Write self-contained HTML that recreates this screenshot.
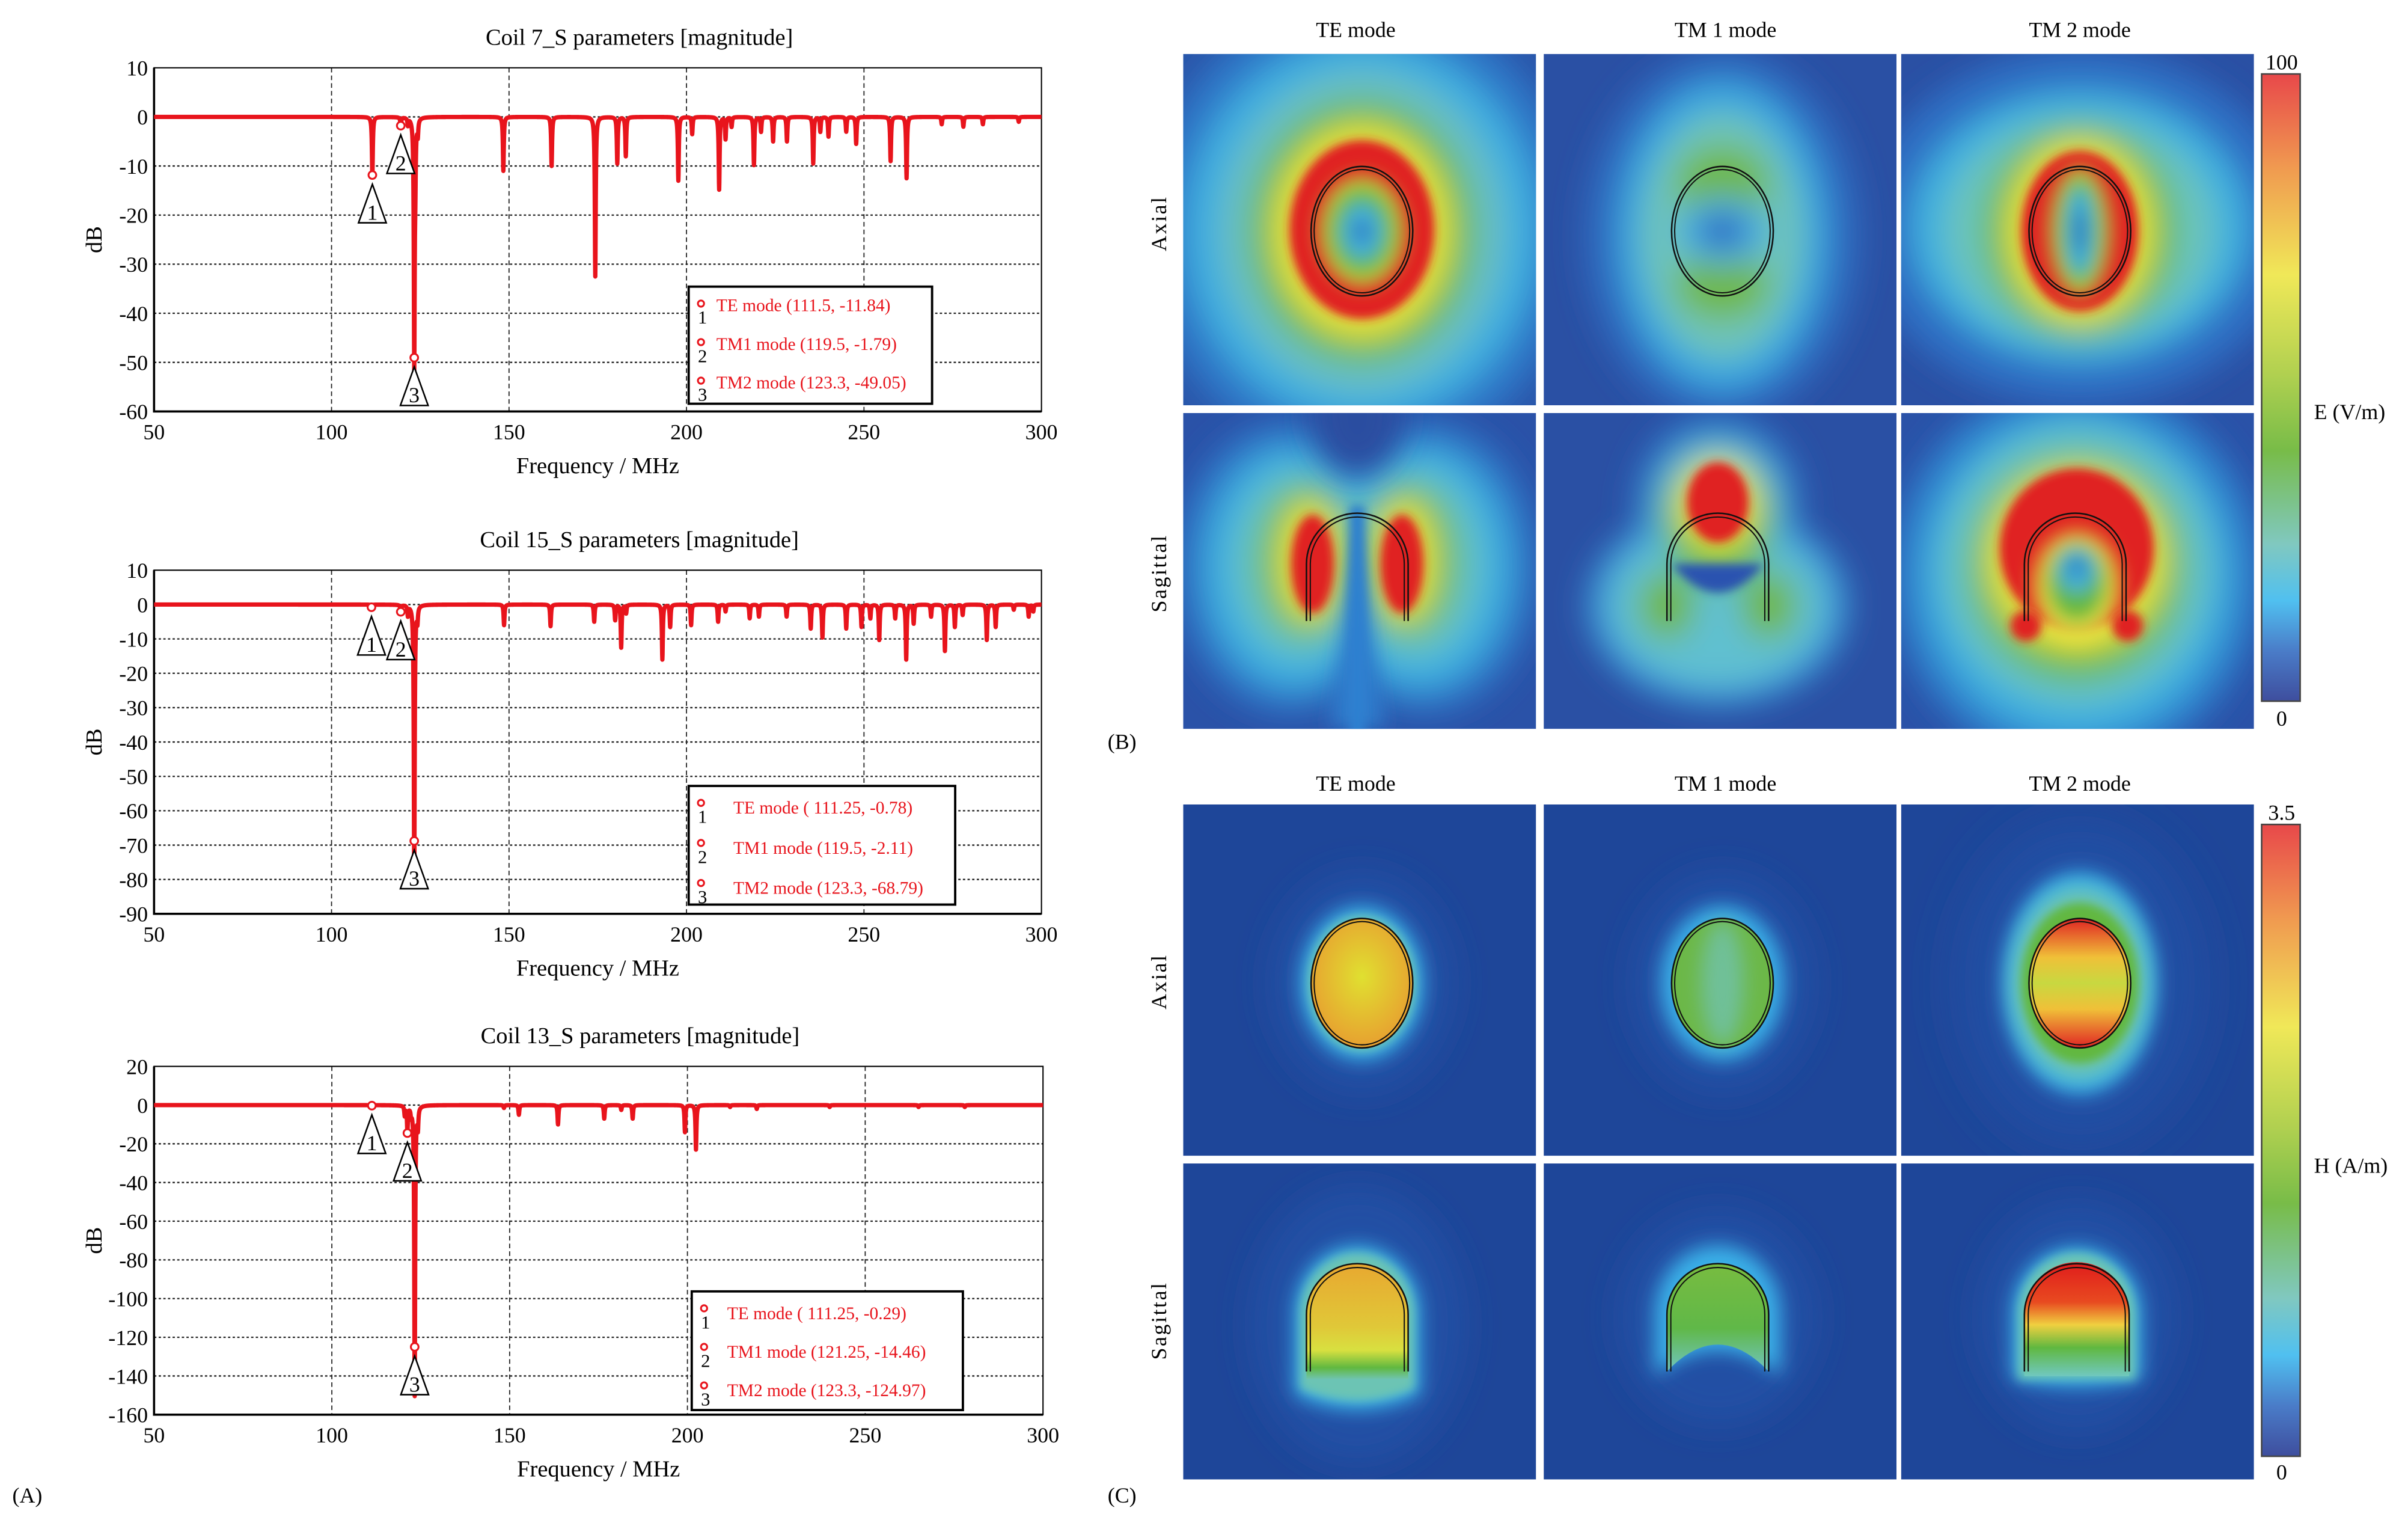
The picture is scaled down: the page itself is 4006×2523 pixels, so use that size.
<!DOCTYPE html>
<html><head><meta charset="utf-8"><style>
html,body{margin:0;padding:0;background:#fff;}
svg{display:block;font-family:"Liberation Serif",serif;}
</style></head><body>
<svg id="fig" width="4006" height="2523" viewBox="0 0 1563 984.4" preserveAspectRatio="none" xmlns="http://www.w3.org/2000/svg">
<defs>
<filter id="b3" x="-50%" y="-50%" width="200%" height="200%"><feGaussianBlur stdDeviation="3"/></filter>
<filter id="b6" x="-50%" y="-50%" width="200%" height="200%"><feGaussianBlur stdDeviation="6"/></filter>
<filter id="b10" x="-50%" y="-50%" width="200%" height="200%"><feGaussianBlur stdDeviation="10"/></filter>
<filter id="b16" x="-50%" y="-50%" width="200%" height="200%"><feGaussianBlur stdDeviation="16"/></filter>
<clipPath id="cA"><rect x="0" y="0" width="229" height="228"/></clipPath>
<clipPath id="cS"><rect x="0" y="0" width="229" height="205"/></clipPath>
<linearGradient id="cbar" x1="0" y1="0" x2="0" y2="1">
<stop offset="0" stop-color="#e8484a"/><stop offset="0.15" stop-color="#f09a50"/><stop offset="0.32" stop-color="#f0e858"/><stop offset="0.48" stop-color="#b0d050"/><stop offset="0.6" stop-color="#78bc48"/><stop offset="0.75" stop-color="#80c8c0"/><stop offset="0.84" stop-color="#50c0f0"/><stop offset="0.92" stop-color="#4a7cc8"/><stop offset="1" stop-color="#3e4e9e"/>
</linearGradient>
<linearGradient id="hTM2a" x1="0" y1="0" x2="0" y2="1"><stop offset="0" stop-color="#e02424"/><stop offset="0.3" stop-color="#f0c038"/><stop offset="0.5" stop-color="#c8d840"/><stop offset="0.7" stop-color="#f0c038"/><stop offset="1" stop-color="#e02424"/></linearGradient>
<linearGradient id="hTEs" x1="0" y1="0" x2="0" y2="1"><stop offset="0" stop-color="#e8a830"/><stop offset="0.55" stop-color="#e0c838"/><stop offset="0.75" stop-color="#d8e040"/><stop offset="0.9" stop-color="#60b840"/><stop offset="1" stop-color="#70c4b0"/></linearGradient>
<linearGradient id="hTM1s" x1="0" y1="0" x2="0" y2="1"><stop offset="0" stop-color="#78bc40"/><stop offset="0.6" stop-color="#60b848"/><stop offset="1" stop-color="#70c4c0"/></linearGradient>
<linearGradient id="hTM2s" x1="0" y1="0" x2="0" y2="1"><stop offset="0" stop-color="#e01c1c"/><stop offset="0.35" stop-color="#e84a20"/><stop offset="0.55" stop-color="#f0d040"/><stop offset="0.75" stop-color="#60b840"/><stop offset="1" stop-color="#70c8c0"/></linearGradient>
<radialGradient id="hTEa" cx="0.5" cy="0.45" r="0.6"><stop offset="0" stop-color="#e0e030"/><stop offset="1" stop-color="#e89a30"/></radialGradient>
</defs>

<g id="charts"></g>
<text x="8" y="975" font-size="14">(A)</text>

<g>
<text x="880" y="24" font-size="14" text-anchor="middle">TE mode</text>
<text x="1120" y="24" font-size="14" text-anchor="middle">TM 1 mode</text>
<text x="1350" y="24" font-size="14" text-anchor="middle">TM 2 mode</text>
<text transform="translate(757,145) rotate(-90)" font-size="14" text-anchor="middle" letter-spacing="1">Axial</text>
<text transform="translate(757,372) rotate(-90)" font-size="14" text-anchor="middle" letter-spacing="1">Sagittal</text>

<g transform="translate(768,35)" clip-path="url(#cA)">
<rect width="229" height="228" fill="#2a56aa"/>
<g filter="url(#b10)">
<ellipse cx="116" cy="115" rx="140" ry="150" fill="#2f78c8"/>
<ellipse cx="116" cy="115" rx="115" ry="125" fill="#40aee0"/>
<ellipse cx="116" cy="115" rx="92" ry="104" fill="#6cc0c0"/>
<ellipse cx="116" cy="115" rx="72" ry="84" fill="#62b840"/>
<ellipse cx="116" cy="115" rx="58" ry="70" fill="#e8e040"/>
</g>
<ellipse cx="116" cy="114" rx="47" ry="58" fill="#e02020" filter="url(#b3)"/>
<g filter="url(#b6)">
<ellipse cx="116" cy="115" rx="28" ry="36" fill="#c8d840"/>
<ellipse cx="116" cy="115" rx="22" ry="29" fill="#62b840"/>
<ellipse cx="116" cy="115" rx="13" ry="18" fill="#40b0e0"/>
<ellipse cx="116" cy="115" rx="4" ry="8" fill="#2a56aa"/>
</g>
<ellipse cx="116" cy="115" rx="33" ry="42" fill="none" stroke="#111" stroke-width="1"/>
<ellipse cx="116" cy="115" rx="31" ry="40" fill="none" stroke="#111" stroke-width="0.8"/>
</g>
<g transform="translate(1002,35)" clip-path="url(#cA)">
<rect width="229" height="228" fill="#2a50a4"/>
<g filter="url(#b10)">
<ellipse cx="116" cy="118" rx="90" ry="120" fill="#2e6cc0"/>
<ellipse cx="116" cy="118" rx="68" ry="100" fill="#3ca8e0"/>
<ellipse cx="116" cy="118" rx="52" ry="80" fill="#70c4b8"/>
<ellipse cx="116" cy="85" rx="30" ry="25" fill="#70b848"/>
<ellipse cx="116" cy="150" rx="30" ry="22" fill="#70b848"/>
<ellipse cx="116" cy="115" rx="30" ry="22" fill="#4ab0e0"/>
<ellipse cx="116" cy="115" rx="16" ry="11" fill="#2e66c0"/>
</g>
<ellipse cx="116" cy="115" rx="33" ry="42" fill="none" stroke="#111" stroke-width="1"/>
<ellipse cx="116" cy="115" rx="31" ry="40" fill="none" stroke="#111" stroke-width="0.8"/>
</g>
<g transform="translate(1234,35)" clip-path="url(#cA)">
<rect width="229" height="228" fill="#2a50a4"/>
<g filter="url(#b10)">
<ellipse cx="116" cy="112" rx="140" ry="115" fill="#2e70c4"/>
<ellipse cx="116" cy="112" rx="110" ry="88" fill="#40b0e0"/>
<ellipse cx="116" cy="114" rx="88" ry="74" fill="#6cc4bc"/>
<ellipse cx="116" cy="115" rx="62" ry="68" fill="#62b840"/>
<ellipse cx="116" cy="115" rx="48" ry="60" fill="#e8e040"/>
</g>
<ellipse cx="116" cy="115" rx="38" ry="52" fill="#e02020" filter="url(#b3)"/>
<g filter="url(#b6)">
<ellipse cx="116" cy="115" rx="20" ry="42" fill="#c8d840"/>
<ellipse cx="116" cy="115" rx="15" ry="36" fill="#62b840"/>
<ellipse cx="116" cy="115" rx="9" ry="28" fill="#40b0e0"/>
<ellipse cx="116" cy="115" rx="3" ry="15" fill="#2a56aa"/>
</g>
<ellipse cx="116" cy="115" rx="33" ry="42" fill="none" stroke="#111" stroke-width="1"/>
<ellipse cx="116" cy="115" rx="31" ry="40" fill="none" stroke="#111" stroke-width="0.8"/>
</g>
<g transform="translate(768,268)" clip-path="url(#cS)">
<rect width="229" height="205" fill="#2a52a8"/>
<g filter="url(#b10)">
<ellipse cx="70" cy="100" rx="75" ry="95" fill="#2e78c8"/>
<ellipse cx="156" cy="100" rx="75" ry="95" fill="#2e78c8"/>
<ellipse cx="72" cy="100" rx="58" ry="78" fill="#40b0e0"/>
<ellipse cx="154" cy="100" rx="58" ry="78" fill="#40b0e0"/>
<ellipse cx="76" cy="98" rx="42" ry="60" fill="#6cc4bc"/>
<ellipse cx="150" cy="98" rx="42" ry="60" fill="#6cc4bc"/>
<ellipse cx="80" cy="96" rx="30" ry="48" fill="#62b840"/>
<ellipse cx="146" cy="96" rx="30" ry="48" fill="#62b840"/>
<ellipse cx="82" cy="96" rx="20" ry="40" fill="#e8e040"/>
<ellipse cx="144" cy="96" rx="20" ry="40" fill="#e8e040"/>
</g>
<ellipse cx="84" cy="98" rx="14" ry="32" fill="#e02020" filter="url(#b3)"/>
<ellipse cx="142" cy="98" rx="14" ry="32" fill="#e02020" filter="url(#b3)"/>
<path d="M113,70 L95,205 L131,205 Z" fill="#2e7ccc" filter="url(#b6)"/>
<rect x="108" y="60" width="10" height="160" fill="#2e80d0" filter="url(#b3)"/>
<ellipse cx="113" cy="0" rx="30" ry="40" fill="#2a4ea0" filter="url(#b10)"/>
<path d="M80,135 L80,98 A33,33 0 0 1 146,98 L146,135" fill="none" stroke="#111" stroke-width="1"/>
<path d="M82.5,135 L82.5,98 A30.5,30.5 0 0 1 143.5,98 L143.5,135" fill="none" stroke="#111" stroke-width="0.8"/>
</g>
<g transform="translate(1002,268)" clip-path="url(#cS)">
<rect width="229" height="205" fill="#2a50a4"/>
<g filter="url(#b10)">
<ellipse cx="113" cy="60" rx="55" ry="60" fill="#2e78c8"/>
<ellipse cx="113" cy="125" rx="85" ry="65" fill="#3a98d8"/>
<ellipse cx="113" cy="125" rx="70" ry="52" fill="#60c0d0"/>
<ellipse cx="113" cy="62" rx="42" ry="45" fill="#60c0d0"/>
<ellipse cx="113" cy="70" rx="34" ry="40" fill="#62b840"/>
<ellipse cx="113" cy="60" rx="26" ry="30" fill="#e8e040"/>
<ellipse cx="80" cy="125" rx="18" ry="22" fill="#70b848"/>
<ellipse cx="146" cy="125" rx="18" ry="22" fill="#70b848"/>
</g>
<ellipse cx="113" cy="58" rx="20" ry="26" fill="#e02020" filter="url(#b3)"/>
<path d="M83,98 Q113,135 143,98 Z" fill="#2a52b0" filter="url(#b3)"/>
<path d="M80,135 L80,98 A33,33 0 0 1 146,98 L146,135" fill="none" stroke="#111" stroke-width="1"/>
<path d="M82.5,135 L82.5,98 A30.5,30.5 0 0 1 143.5,98 L143.5,135" fill="none" stroke="#111" stroke-width="0.8"/>
</g>
<g transform="translate(1234,268)" clip-path="url(#cS)">
<rect width="229" height="205" fill="#2a52a8"/>
<g filter="url(#b10)">
<ellipse cx="114" cy="105" rx="120" ry="125" fill="#2e80cc"/>
<ellipse cx="114" cy="105" rx="100" ry="105" fill="#40b0e0"/>
<ellipse cx="114" cy="100" rx="85" ry="88" fill="#6cc4bc"/>
<ellipse cx="114" cy="100" rx="68" ry="72" fill="#62b840"/>
<ellipse cx="114" cy="95" rx="58" ry="60" fill="#e8e040"/>
</g>
<ellipse cx="114" cy="88" rx="50" ry="52" fill="#e02020" filter="url(#b3)"/>
<g filter="url(#b6)">
<ellipse cx="114" cy="112" rx="28" ry="35" fill="#e8e040"/>
<ellipse cx="114" cy="110" rx="20" ry="26" fill="#62b840"/>
<ellipse cx="114" cy="102" rx="12" ry="14" fill="#40b0e0"/>
<ellipse cx="114" cy="100" rx="4" ry="6" fill="#2a56aa"/>
</g>
<circle cx="81" cy="138" r="10" fill="#e02020" filter="url(#b3)"/>
<circle cx="147" cy="138" r="10" fill="#e02020" filter="url(#b3)"/>
<path d="M80,135 L80,98 A33,33 0 0 1 146,98 L146,135" fill="none" stroke="#111" stroke-width="1"/>
<path d="M82.5,135 L82.5,98 A30.5,30.5 0 0 1 143.5,98 L143.5,135" fill="none" stroke="#111" stroke-width="0.8"/>
</g>
<rect x="1468" y="48" width="25" height="407" fill="url(#cbar)" stroke="#444" stroke-width="1"/>
<text x="1481" y="45" font-size="14" text-anchor="middle">100</text>
<text x="1481" y="471" font-size="14" text-anchor="middle">0</text>
<text x="1502" y="272" font-size="14">E (V/m)</text>
<text x="719" y="486" font-size="14">(B)</text>
</g>

<g>
<text x="880" y="513" font-size="14" text-anchor="middle">TE mode</text>
<text x="1120" y="513" font-size="14" text-anchor="middle">TM 1 mode</text>
<text x="1350" y="513" font-size="14" text-anchor="middle">TM 2 mode</text>
<text transform="translate(757,637) rotate(-90)" font-size="14" text-anchor="middle" letter-spacing="1">Axial</text>
<text transform="translate(757,857) rotate(-90)" font-size="14" text-anchor="middle" letter-spacing="1">Sagittal</text>

<g transform="translate(768,522)" clip-path="url(#cA)">
<rect width="229" height="228" fill="#1e4699"/>
<ellipse cx="116" cy="116" rx="60" ry="72" fill="#2450a4" filter="url(#b10)"/>
<ellipse cx="116" cy="116" rx="40" ry="50" fill="#3ab0e8" filter="url(#b6)"/>
<ellipse cx="116" cy="116" rx="35" ry="44" fill="#6cc4b4" filter="url(#b3)"/>
<ellipse cx="116" cy="116" rx="33" ry="42" fill="url(#hTEa)"/>
<ellipse cx="116" cy="116" rx="33" ry="42" fill="none" stroke="#111" stroke-width="1"/>
<ellipse cx="116" cy="116" rx="31" ry="40" fill="none" stroke="#111" stroke-width="0.8"/>
</g>
<g transform="translate(1002,522)" clip-path="url(#cA)">
<rect width="229" height="228" fill="#1e4699"/>
<ellipse cx="116" cy="116" rx="60" ry="72" fill="#2450a4" filter="url(#b10)"/>
<ellipse cx="116" cy="116" rx="40" ry="50" fill="#3ab0e8" filter="url(#b6)"/>
<ellipse cx="116" cy="116" rx="33" ry="42" fill="#6cb848"/>
<ellipse cx="116" cy="116" rx="14" ry="40" fill="#70c098" filter="url(#b6)"/>
<ellipse cx="116" cy="116" rx="33" ry="42" fill="none" stroke="#111" stroke-width="1"/>
<ellipse cx="116" cy="116" rx="31" ry="40" fill="none" stroke="#111" stroke-width="0.8"/>
</g>
<g transform="translate(1234,522)" clip-path="url(#cA)">
<rect width="229" height="228" fill="#1e4699"/>
<ellipse cx="116" cy="116" rx="80" ry="105" fill="#2450a4" filter="url(#b16)"/>
<ellipse cx="116" cy="116" rx="50" ry="72" fill="#3ab0e8" filter="url(#b6)"/>
<ellipse cx="116" cy="116" rx="44" ry="62" fill="#6cc4b4" filter="url(#b6)"/>
<ellipse cx="116" cy="116" rx="38" ry="52" fill="#62b840" filter="url(#b3)"/>
<ellipse cx="116" cy="116" rx="33" ry="42" fill="url(#hTM2a)"/>
<ellipse cx="116" cy="116" rx="33" ry="42" fill="none" stroke="#111" stroke-width="1"/>
<ellipse cx="116" cy="116" rx="31" ry="40" fill="none" stroke="#111" stroke-width="0.8"/>
</g>
<g transform="translate(768,755)" clip-path="url(#cS)">
<rect width="229" height="205" fill="#1e4699"/>
<ellipse cx="113" cy="105" rx="70" ry="90" fill="#2450a4" filter="url(#b10)"/>
<path d="M72,150 L72,98 A41,45 0 0 1 154,98 L154,150 Q113,170 72,150 Z" fill="#3ab0e8" filter="url(#b6)"/>
<path d="M76,146 L76,98 A37,40 0 0 1 150,98 L150,146 Q113,162 76,146 Z" fill="#6cc4b4" filter="url(#b3)"/>
<path d="M80,140 L80,98 A33,33 0 0 1 146,98 L146,140 Z" fill="url(#hTEs)"/>
<path d="M80,135 L80,98 A33,33 0 0 1 146,98 L146,135" fill="none" stroke="#111" stroke-width="1"/>
<path d="M82.5,135 L82.5,98 A30.5,30.5 0 0 1 143.5,98 L143.5,135" fill="none" stroke="#111" stroke-width="0.8"/>
</g>
<g transform="translate(1002,755)" clip-path="url(#cS)">
<rect width="229" height="205" fill="#1e4699"/>
<ellipse cx="113" cy="100" rx="65" ry="70" fill="#2450a4" filter="url(#b10)"/>
<path d="M72,138 L72,98 A41,45 0 0 1 154,98 L154,138 Q113,105 72,138 Z" fill="#3ab0e8" filter="url(#b6)"/>
<path d="M80,135 L80,98 A33,33 0 0 1 146,98 L146,135 Q113,100 80,135 Z" fill="url(#hTM1s)"/>
<path d="M80,135 L80,98 A33,33 0 0 1 146,98 L146,135" fill="none" stroke="#111" stroke-width="1"/>
<path d="M82.5,135 L82.5,98 A30.5,30.5 0 0 1 143.5,98 L143.5,135" fill="none" stroke="#111" stroke-width="0.8"/>
</g>
<g transform="translate(1234,755)" clip-path="url(#cS)">
<rect width="229" height="205" fill="#1e4699"/>
<ellipse cx="114" cy="100" rx="65" ry="75" fill="#2450a4" filter="url(#b10)"/>
<path d="M72,140 L72,98 A42,44 0 0 1 156,98 L156,140 Q114,150 72,140 Z" fill="#3ab0e8" filter="url(#b6)"/>
<path d="M76,140 L76,98 A38,40 0 0 1 152,98 L152,140 Z" fill="#6cc4b4" filter="url(#b3)"/>
<path d="M80,138 L80,98 A33,33 0 0 1 148,98 L148,138 Z" fill="url(#hTM2s)"/>
<path d="M80,135 L80,98 A34,33 0 0 1 148,98 L148,135" fill="none" stroke="#111" stroke-width="1"/>
<path d="M82.5,135 L82.5,98 A31.5,30.5 0 0 1 145.5,98 L145.5,135" fill="none" stroke="#111" stroke-width="0.8"/>
</g>
<rect x="1468" y="535" width="25" height="410" fill="url(#cbar)" stroke="#444" stroke-width="1"/>
<text x="1481" y="532" font-size="14" text-anchor="middle">3.5</text>
<text x="1481" y="960" font-size="14" text-anchor="middle">0</text>
<text x="1502" y="761" font-size="14">H (A/m)</text>
<text x="719" y="975" font-size="14">(C)</text>
</g>
</svg>
<script>
const xTicks=[50,100,150,200,250,300];
const c1YTicks=[10,0,-10,-20,-30,-40,-50,-60];
const c2YTicks=[10,0,-10,-20,-30,-40,-50,-60,-70,-80,-90];
const c3YTicks=[20,0,-20,-40,-60,-80,-100,-120,-140,-160];
const c1DipFreq=[111.5,119.5,121.5,123.3,123.6,124.3,148.4,162,174.3,180.5,182.9,197.7,201.6,209.2,211,212.7,219,221,224.4,228.3,235.7,237.7,240,245,247.8,257.5,262,271.9,278,283.5,293.6];
const c1DipDepth=[-12,-1.8,-1.5,-50,-9,-3,-11,-10,-32.5,-9.5,-8,-13,-3.5,-14.8,-4.5,-2,-9.8,-3,-5,-5,-9.5,-3,-4,-3,-5.5,-9,-12.5,-1.5,-2,-1.5,-1];
const c2DipFreq=[111.25,119.5,121.5,123.3,124.2,148.6,161.7,174,179.9,181.6,183,193.2,195.4,201.3,208.9,211,217.8,220.4,228.2,235,238.3,245,249.3,251.8,254.3,258.8,261.9,264,268.9,272.8,275.6,277.8,284.6,287.1,292.2,296.4,297.7];
const c2DipDepth=[-0.78,-2.1,-3,-80,-4,-6,-6.3,-5,-4.5,-12.5,-2.5,-16,-6.5,-6,-5,-2,-4,-3.5,-3.5,-7,-9.6,-7,-6.5,-4,-10.3,-4,-16,-5.5,-3.5,-13.5,-6.5,-3,-10.3,-6.5,-1.5,-3.5,-2];
const c3DipFreq=[111.25,120.5,121.25,122.3,123.3,124.2,148.4,152.6,163.6,176.6,181.4,184.6,199.3,202.4,212,219.5,240,265,278];
const c3DipDepth=[-0.29,-5,-13,-4,-150,-10,-1.5,-5,-10,-7,-2.5,-7,-14,-23,-1,-2,-1,-1,-1];
const c1MarkFreq=[111.5,119.5,123.3], c1MarkVal=[-11.84,-1.79,-49.05];
const c2MarkFreq=[111.25,119.5,123.3], c2MarkVal=[-0.78,-2.11,-68.79];
const c3MarkFreq=[111.25,121.25,123.3], c3MarkVal=[-0.29,-14.46,-124.97];
const c1Legend=["TE mode (111.5, -11.84)","TM1 mode (119.5, -1.79)","TM2 mode (123.3, -49.05)"];
const c2Legend=["TE mode ( 111.25, -0.78)","TM1 mode (119.5, -2.11)","TM2 mode (123.3, -68.79)"];
const c3Legend=["TE mode ( 111.25, -0.29)","TM1 mode (121.25, -14.46)","TM2 mode (123.3, -124.97)"];
const c1Title="Coil 7_S parameters [magnitude]";
const c2Title="Coil 15_S parameters [magnitude]";
const c3Title="Coil 13_S parameters [magnitude]";

const NS="http://www.w3.org/2000/svg";
const root=document.getElementById('charts');
function mk(tag,attrs,parent){const e=document.createElementNS(NS,tag);for(const k in attrs)e.setAttribute(k,attrs[k]);(parent||root).appendChild(e);return e;}

function chart(id,box,yTicks,dF,dD,mF,mV,legend,title,lg){
  const g=mk('g',{});
  
  
  const ymax=yTicks[0],ymin=yTicks[yTicks.length-1];
  const X=f=>box.x0+(f-50)/250*(box.x1-box.x0);
  const Y=v=>box.y0+(ymax-v)/(ymax-ymin)*(box.y1-box.y0);
  const bg=mk('rect',{x:box.x0,y:box.y0,width:box.x1-box.x0,height:box.y1-box.y0,fill:'#fff',stroke:'none'},g);
  
  
  xTicks.forEach(t=>{
    if(t>50&&t<300){const l=mk('line',{x1:X(t),x2:X(t),y1:box.y0,y2:box.y1,stroke:'#222','stroke-width':0.7,'stroke-dasharray':'3,2'},g);
    
    }
    const tx=mk('text',{x:X(t),y:box.y1+18,'font-size':14,'text-anchor':'middle'},g);tx.textContent=t;
    
    
  });
  yTicks.forEach(t=>{
    if(t<ymax&&t>ymin){const l=mk('line',{x1:box.x0,x2:box.x1,y1:Y(t),y2:Y(t),stroke:'#222','stroke-width':0.9,'stroke-dasharray':'1.5,1.5'},g);
    
    }
    const tx=mk('text',{x:box.x0-4,y:Y(t)+5,'font-size':14,'text-anchor':'end'},g);tx.textContent=t;
    
    
  });
  const axes=mk('path',{d:`M${box.x0},${box.y0}H${box.x1}V${box.y1}H${box.x0}Z`,fill:'none',stroke:'#000','stroke-width':0.8},g);
  
  
  mk('path',{d:`M${box.x0},${box.y0}V${box.y1}H${box.x1}`,fill:'none',stroke:'#000','stroke-width':1.4},g);
  let fs=[];for(let f=50;f<=300.001;f+=0.05)fs.push(+f.toFixed(3));
  fs=fs.concat(dF).sort((a,b)=>a-b);
  const w=0.15;
  let d='';
  fs.forEach((f,i)=>{let v=0;for(let k=0;k<dF.length;k++){const u=(f-dF[k])/w;v+=dD[k]/(1+u*u);}
    v=Math.max(v,ymin+1);d+=(i?'L':'M')+X(f).toFixed(2)+','+Y(v).toFixed(2);});
  const ln=mk('path',{d:d,fill:'none',stroke:'#e8141c','stroke-width':2.8,'stroke-linejoin':'round'},g);
  
  
  mF.forEach((f,i)=>{
    const cx=X(f),cy=Y(mV[i]);
    const tri=mk('path',{d:`M${cx},${cy+6}L${cx+9},${cy+31}H${cx-9}Z`,fill:'#fff',stroke:'#000','stroke-width':1},g);
    
    
    const n=mk('text',{x:cx,y:cy+29,'font-size':14,'text-anchor':'middle'},g);n.textContent=i+1;
    
    
    const c=mk('circle',{cx:cx,cy:cy,r:2.5,fill:'#fff',stroke:'#e8141c','stroke-width':1.2},g);
    
    
  });
  const lb=mk('rect',{x:lg.x,y:lg.y,width:lg.w,height:lg.h,fill:'#fff',stroke:'#000','stroke-width':1.5},g);
  
  
  legend.forEach((s,i)=>{
    const cy=lg.y+11+i*lg.dy;
    const c=mk('circle',{cx:lg.x+8,cy:cy,r:2,fill:'#fff',stroke:'#e8141c','stroke-width':1.2},g);
    
    
    const n=mk('text',{x:lg.x+9,y:cy+13,'font-size':12,'text-anchor':'middle'},g);n.textContent=i+1;
    
    
    const t=mk('text',{x:lg.tx,y:cy+lg.toff,'font-size':11.5,fill:'#e8141c'},g);t.textContent=s;
    
    
  });
  const tt=mk('text',{x:(box.x0+box.x1)/2+27,y:box.y0-15,'font-size':15,'text-anchor':'middle'},g);tt.textContent=title;
  
  
  const xl=mk('text',{x:(box.x0+box.x1)/2,y:box.y1+40,'font-size':15,'text-anchor':'middle'},g);xl.textContent='Frequency / MHz';
  
  
  const yl=mk('text',{transform:`translate(66,${(box.y0+box.y1)/2}) rotate(-90)`,'font-size':15,'text-anchor':'middle'},g);yl.textContent='dB';
  
  
}
chart('chart-coil-7',{x0:100,x1:676,y0:44,y1:267},c1YTicks,c1DipFreq,c1DipDepth,c1MarkFreq,c1MarkVal,c1Legend,c1Title,{x:447,y:186,w:158,h:76,dy:25,tx:465,toff:5});
chart('chart-coil-15',{x0:100,x1:676,y0:370,y1:593},c2YTicks,c2DipFreq,c2DipDepth,c2MarkFreq,c2MarkVal,c2Legend,c2Title,{x:447,y:510,w:173,h:77,dy:26,tx:476,toff:7});
chart('chart-coil-13',{x0:100,x1:677,y0:692,y1:918},c3YTicks,c3DipFreq,c3DipDepth,c3MarkFreq,c3MarkVal,c3Legend,c3Title,{x:449,y:838,w:176,h:77,dy:25,tx:472,toff:7});
</script>
</body></html>
